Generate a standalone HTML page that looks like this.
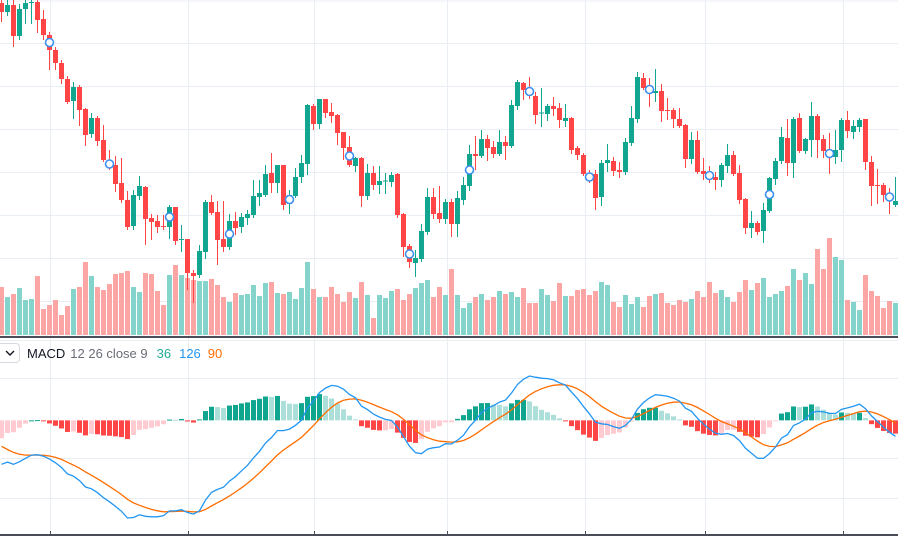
<!DOCTYPE html>
<html><head><meta charset="utf-8">
<style>
html,body{margin:0;padding:0;background:#fff;overflow:hidden}
#wrap{position:relative;width:898px;height:536px;font-family:"Liberation Sans",sans-serif}
svg{position:absolute;left:0;top:0}
#legend{position:absolute;left:0;top:343px;height:20px;display:flex;align-items:center;font-size:13px;white-space:nowrap}
#ddbtn{width:19px;height:18px;border:1px solid #d6d9e0;border-left:none;border-radius:0 4px 4px 0;display:flex;align-items:center;justify-content:center;margin-right:7px;background:#fff}
</style></head><body>
<div id="wrap">
<svg id="chart" width="898" height="536"></svg>
<div id="legend">
  <div id="ddbtn"><svg width="10" height="6" style="position:static"><path d="M1 1 L5 5 L9 1" stroke="#131722" stroke-width="1.4" fill="none"/></svg></div>
  <span style="color:#131722">MACD</span>
  <span style="color:#6a6d78;margin-left:5px">12 26 close 9</span>
  <span style="color:#22ab94;margin-left:9px">36</span>
  <span style="color:#2196f3;margin-left:8px">126</span>
  <span style="color:#ff6d00;margin-left:7px">90</span>
</div>
</div>
<script>
const opens=[337,328,335,304,331,337,338,321,305,290,277,261,239,253,231,206,222,200,180,175,157,140,114,144,153,122,119,114,113,133,100,101,67,65,88,138,128,101,93,119,113,122,125,143,145,167,157,175,136,144,163,176,234,216,241,228,225,208,193,174,182,144,167,155,159,158,166,126,94,77,81,108,143,127,121,138,116,140,154,186,184,201,193,186,198,194,234,257,250,244,227,226,234,232,219,222,192,185,166,166,143,177,179,170,168,197,221,262,251,247,249,230,230,221,215,181,200,169,166,163,160,174,185,167,141,112,117,109,129,161,179,202,177,222,189,200,224,201,190,183,190,220,208,213,221,178,155,155,146,135];
const closes=[328,335,304,331,337,338,320,305,290,277,261,238,253,230,205,222,199,180,172,156,140,113,145,154,121,118,113,113,133,99,101,67,64,89,138,127,100,93,119,112,123,126,144,147,166,157,175,135,145,163,177,235,216,241,227,224,207,192,175,182,144,167,155,159,159.5,165,125,93,78,82,109,143,126,121,138,116,142,155,186,184,201,192,186,198,194,235,258,250,247,225,227.5,234,231,220,222,190,185,166,160,142,177,180,169,168,198,222,263,252,250,249,229,229,221,214,181,200,168,166,163,160,175,185,166,140,112,117,108,130,162,179,203,177,221,189,201,224,200,189,183,190,220,209,214,220,178,154,154,145,140,139];
const highs=[342,340,340,336,340,341,340,330,308,293,280,264,258,255,232,227,224,215,190,184,182,149,150,164,154,126,125,125,135,133,115,101,70,95,140,145,139,139,126,128,127,130,160,160,175,187,175,175,150,172,185,236,236,241,241,237,226,208,204,183,183,176,174,174,167,168,167,127,96,90,116,152,152,154,141,141,149,163,195,204,210,205,199,210,204,240,260,258,263,248,252,236,243,237,236,223,194,187,170,170,180,196,183,178,202,234,268,267,262,271,256,242,232,232,216,208,209,182,174,168,177,196,189,175,142,129,119,137,163,182,213,221,223,227,202,238,226,205,207,210,222,229,220,222,221,184,171,157,152,163];
const lows=[318,324,293,300,316,316,307,300,270,270,256,236,221,214,194,202,194,178,170,148,137,110,110,140,95,100,107,110,101,95,88,50,37,62,81,125,75,88,90,105,107,115,122,134,143,147,147,130,126,142,157,165,210,211,222,217,195,180,173,168,133,140,150,146,146,153,122,83,72,63,78,105,121,117,116,103,103,135,149,170,182,179,182,184,180,192,230,240,241,216,213,219,224,212,213,186,180,164,157,130,134,168,164,162,165,194,217,250,233,238,218,220,212,212,172,176,166,160,157,150,153,167,164,136,106,102,105,97,127,155,176,164,162,187,186,183,182,182,166,176,178,202,201,208,170,134,136,138,126,133];
const volumes=[48,38,41,47,35,36,59,26,30,35,20,29,46,48,73,59,48,45,51,61,62,64,48,43,62,61,44,30,60,70,60,57,55,54,54,56,50,38,33,42,40,41,50,39,52,53,42,41,43,36,47,73,46,38,38,48,41,33,43,37,53,40,17,40,37,44,46,35,41,47,52,55,38,48,40,66,40,27,32,38,41,35,38,44,41,43,38,47,32,32,46,40,34,52,39,39,45,46,40,44,53,50,33,28,40,31,38,28,39,41,42,32,30,35,33,36,44,38,53,42,45,38,33,43,55,45,52,57,38,41,44,49,66,55,62,51,86,66,97,78,75,35,33,25,60,44,39,27,34,32];
const emaSeeds=[345,370,-12];
const markerEvery=10, markerStart=8;

const NS='http://www.w3.org/2000/svg';
const svg=document.getElementById('chart');
function mk(tag,attrs,parent){const e=document.createElementNS(NS,tag);for(const k in attrs)e.setAttribute(k,attrs[k]);(parent||svg).appendChild(e);return e;}
const G='#e8eef4';
const xC=i=>1.5+6*i;
const yP=p=>340-p;
const yV=v=>335-v;

// grid
const grid=mk('g',{});


[1,43.5,86.5,129.5,172.5,215.5,258.5,301.5].forEach(y=>mk('line',{x1:0,x2:898,y1:y,y2:y,stroke:G,'stroke-width':1},grid));
[378.5,458.5,498.5].forEach(y=>mk('line',{x1:0,x2:898,y1:y,y2:y,stroke:G,'stroke-width':1},grid));
[50.5,188.5,314.5,447.5,585.5,705.5,843.5].forEach(x=>mk('line',{x1:x,x2:x,y1:0,y2:536,stroke:G,'stroke-width':1},grid));

// volume
const vg=mk('g',{});


volumes.forEach((v,i)=>{
  const up=closes[i]>=opens[i];
  const r=mk('rect',{x:xC(i)-2.5,y:yV(v),width:5,height:v,fill:up?'#84d4cb':'#fca5a5'},vg);
  
  
});

// candles
const cg=mk('g',{});


closes.forEach((c,i)=>{
  const o=opens[i],up=c>=o,col=up?'#12a590':'#ff4545';
  const g=mk('g',{},cg);
  
  
  mk('rect',{x:xC(i)-0.5,y:yP(highs[i]),width:1,height:Math.max(1,highs[i]-lows[i]),fill:col},g);
  const top=yP(Math.max(o,c)),h=Math.max(1,Math.abs(o-c));
  mk('rect',{x:xC(i)-2.5,y:top,width:5,height:h,fill:col},g);
});
// markers
for(let i=markerStart;i<closes.length;i+=markerEvery){
  const m=mk('circle',{cx:xC(i),cy:yP((opens[i]+closes[i])/2),r:4,fill:'#fff',stroke:'#3d8ff0','stroke-width':1.6});
  
  
}
// divider
const dv=mk('rect',{x:0,y:336,width:898,height:2,fill:'#4a4d57'});


mk('line',{x1:0,x2:898,y1:340.5,y2:340.5,stroke:G});
const bl=mk('rect',{x:0,y:534,width:898,height:2,fill:'#4a4d57'});


[50,188,314,447,585,705,843].forEach(x=>mk('rect',{x:x,y:531,width:1,height:3,fill:'#4a4d57'}));

// MACD computed from closes
const macd=[],sig=[],hist=[];
let e12=emaSeeds[0],e26=emaSeeds[1],s=emaSeeds[2];
const a12=2/13,a26=2/27,a9=2/10;
closes.forEach(c=>{e12+=a12*(c-e12);e26+=a26*(c-e26);const m=e12-e26;s+=a9*(m-s);macd.push(m);sig.push(s);hist.push(m-s);});
const all=macd.concat(sig,hist);
const mn=Math.min(...all),mx=Math.max(...all);
const yM=v=>376+(mx-v)/(mx-mn)*(518-376);
const y0=yM(0);
const hg=mk('g',{});


hist.forEach((h,i)=>{
  const prev=i>0?hist[i-1]:h;
  let col;
  if(h>=0) col=h>=prev?'#0fa58f':'#acdfd9'; else col=h<prev?'#ff4646':'#ffcad0';
  const y=Math.min(yM(h),y0),hh=Math.max(1,Math.abs(yM(h)-y0));
  const r=mk('rect',{x:xC(i)-2.5,y:y,width:5,height:hh,fill:col},hg);
  
  
});
const pts=a=>a.map((v,i)=>xC(i).toFixed(1)+','+yM(v).toFixed(1)).join(' ');
const sl=mk('polyline',{points:pts(sig),fill:'none',stroke:'#ff6d00','stroke-width':1.3});


const ml=mk('polyline',{points:pts(macd),fill:'none',stroke:'#2196f3','stroke-width':1.3});


</script>
</body></html>
